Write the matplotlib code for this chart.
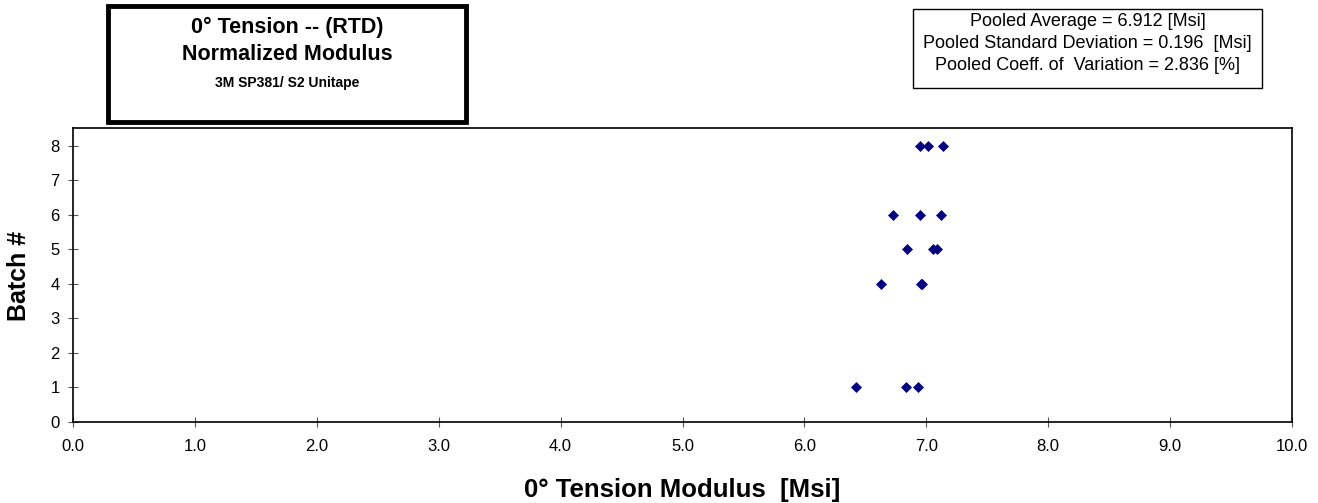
import matplotlib
matplotlib.use("Agg")
import matplotlib.pyplot as plt
from matplotlib.patches import Rectangle

plt.rcParams['font.family'] = ['Liberation Sans', 'DejaVu Sans']

# modulus values [Msi], one list per batch
batch_1 = [6.42, 6.83, 6.93]
batch_4 = [6.63, 6.955, 6.965]
batch_5 = [6.845, 7.055, 7.09]
batch_6 = [6.73, 6.95, 7.12]
batch_8 = [6.95, 7.01, 7.14]
batch_ids = [1, 4, 5, 6, 8]

x_ticks = [0.0, 1.0, 2.0, 3.0, 4.0, 5.0, 6.0, 7.0, 8.0, 9.0, 10.0]
y_ticks = [0, 1, 2, 3, 4, 5, 6, 7, 8]

title_lines = ["0° Tension -- (RTD)", "Normalized Modulus", "3M SP381/ S2 Unitape"]
stats_lines = ["Pooled Average = 6.912 [Msi]",
               "Pooled Standard Deviation = 0.196  [Msi]",
               "Pooled Coeff. of  Variation = 2.836 [%]"]

W, H = 1318, 503
fig = plt.figure(figsize=(W / 100, H / 100), dpi=100)
ax = fig.add_axes([73 / W, 1 - 421.7 / H, (1292 - 73) / W, (421.7 - 128.3) / H])

all_vals = [batch_1, batch_4, batch_5, batch_6, batch_8]
for b, vals in zip(batch_ids, all_vals):
    ax.plot(vals, [b] * len(vals), linestyle='none', marker='D', markersize=5.6,
            color='#000080', markeredgecolor='#000080', markeredgewidth=0.5)

ax.set_xlim(0, 10)
ax.set_ylim(0, 8.5)
ax.set_xticks(x_ticks)
ax.set_xticklabels(["%.1f" % t for t in x_ticks])
ax.set_yticks(y_ticks)
ax.tick_params(axis='x', direction='inout', length=7, width=0.8, color='#555555',
               labelsize=12, pad=9)
ax.tick_params(axis='y', direction='inout', length=7, width=0.8, color='#555555',
               labelsize=12, pad=6)
for s in ax.spines.values():
    s.set_linewidth(1.2)
    s.set_color('black')

# axis titles
fig.text(0.5 * (73 + 1292) / W, 1 - 490 / H, "0° Tension Modulus  [Msi]",
         ha='center', va='center', fontsize=18.5, fontweight='bold')
fig.text(19 / W, 1 - 276 / H, "Batch #", ha='center', va='center',
         rotation=90, fontsize=18, fontweight='bold')

# title box
fig.patches.append(Rectangle((108 / W, 1 - 122 / H), (466 - 108) / W, (122 - 6) / H,
                             transform=fig.transFigure, fill=False,
                             edgecolor='black', linewidth=3.5))
cx = 287 / W
fig.text(cx, 1 - 27 / H, title_lines[0], ha='center', va='center', fontsize=15.5, fontweight='bold')
fig.text(cx, 1 - 55 / H, title_lines[1], ha='center', va='center', fontsize=15.5, fontweight='bold')
fig.text(cx, 1 - 83 / H, title_lines[2], ha='center', va='center', fontsize=10, fontweight='bold')

# stats box
fig.patches.append(Rectangle((913 / W, 1 - 88 / H), (1262 - 913) / W, (88 - 9) / H,
                             transform=fig.transFigure, fill=False,
                             edgecolor='black', linewidth=1))
sx = 0.5 * (913 + 1262) / W
for i, line in enumerate(stats_lines):
    fig.text(sx, 1 - (22 + 22 * i) / H, line, ha='center', va='center', fontsize=13)

fig.savefig("out.png", dpi=100)
